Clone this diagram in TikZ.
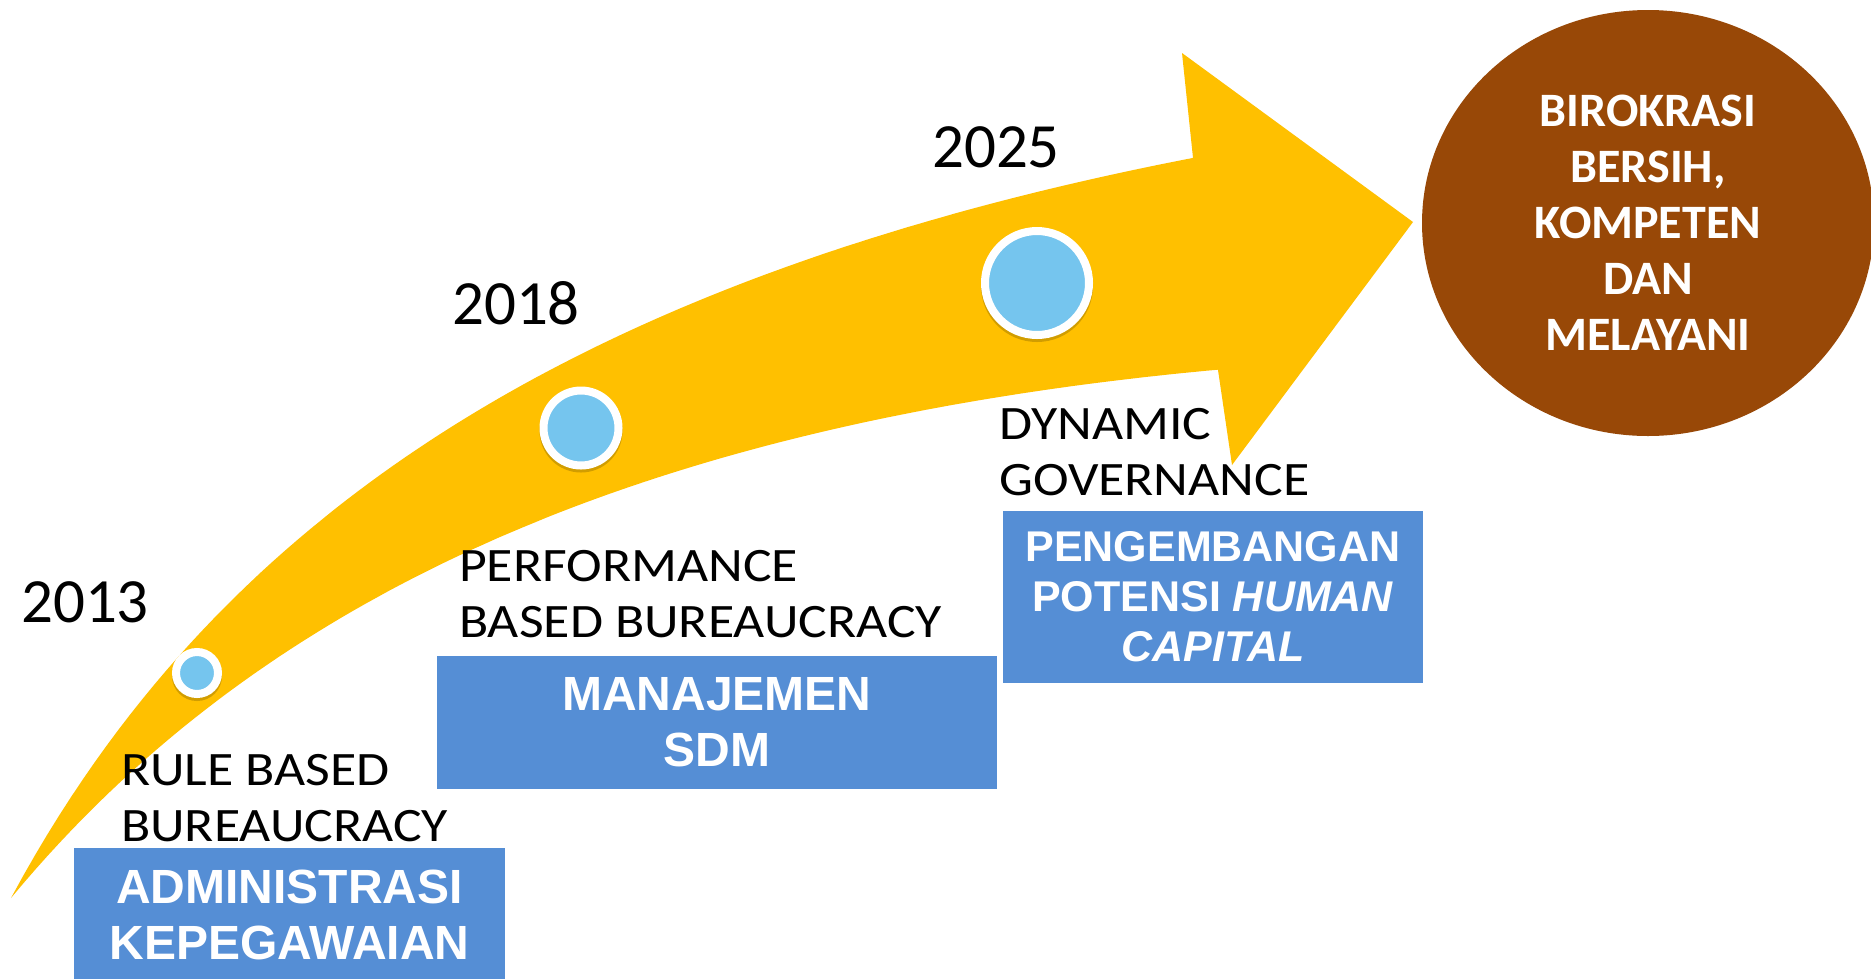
\documentclass[tikz,border=0pt]{standalone}
\usepackage{fontspec}
\setmainfont{Carlito}
\newfontfamily\lblfont[FakeStretch=1.12]{Carlito}
\newfontfamily\boxfont{Liberation Sans}
\usetikzlibrary{shapes.geometric}
\definecolor{arrowyellow}{HTML}{FFC000}
\definecolor{dotblue}{HTML}{75C5EE}
\definecolor{boxblue}{HTML}{558ED5}
\definecolor{goalbrown}{HTML}{984807}
\begin{document}
\begin{tikzpicture}[x=1pt,y=-1pt,
  yeartext/.style={inner sep=0pt, font=\fontsize{63}{70}\selectfont},
  lbltext/.style={inner sep=0pt, anchor=north west, align=left, font=\lblfont\fontsize{48}{56}\selectfont},
  stagebox/.style={fill=boxblue, text=white, align=center, inner sep=0pt, font=\boxfont\bfseries\fontsize{48}{56}\selectfont},
  dotnode/.style={circle, fill=dotblue, draw=white, inner sep=0pt, line width=8pt,
    preaction={fill=black, draw=black, opacity=0.18, transform canvas={yshift=-3pt}}},
  goalnode/.style={ellipse, fill=goalbrown, text=white, inner sep=0pt, align=center, font=\bfseries\fontsize{48}{56}\selectfont}]
\path[use as bounding box] (0,0) rectangle (1871,978);
\clip (0,0) rectangle (1871,978);
\fill[white] (0,0) rectangle (1871,978);
% big curved arrow (edges as smooth analytic curves)
\fill[arrowyellow]
  plot[domain=11:1193, samples=100] (\x, {898 + 0.249*(\x-11) - 662.6*ln((\x+303)/314)})
  -- (1182,53) -- (1413,222) -- (1232,465) -- (1218,370)
  -- plot[domain=1218:11, samples=100] (\x, {898 + 0.396*(\x-11) - 844.7*ln((\x+515.7)/526.7)})
  -- cycle;
% milestones
\node[dotnode, minimum size=42pt] (d1) at (197,673) {};
\node[dotnode, minimum size=75pt] (d2) at (581,428) {};
\node[dotnode, minimum size=104pt] (d3) at (1037,283) {};
% years
\node[yeartext] (y1) at (85,602) {2013};
\node[yeartext] (y2) at (516,303) {2018};
\node[yeartext] (y3) at (996,147) {2025};
% paradigm labels
\node[lbltext] (l1) at (121,754) {RULE BASED\\BUREAUCRACY};
\node[lbltext] (l2) at (459,550) {PERFORMANCE\\BASED BUREAUCRACY};
\node[lbltext] (l3) at (999,408) {DYNAMIC\\GOVERNANCE};
% stage boxes
\node[stagebox, minimum width=431pt, minimum height=134pt] (b1) at (289.5,915) {ADMINISTRASI\\KEPEGAWAIAN};
\node[stagebox, minimum width=560pt, minimum height=133pt] (b2) at (717,722.5) {MANAJEMEN\\SDM};
\node[stagebox, minimum width=420pt, minimum height=172pt, font=\boxfont\bfseries\fontsize{43}{50}\selectfont] (b3) at (1213,597) {PENGEMBANGAN\\POTENSI \textit{HUMAN}\\\textit{CAPITAL}};
% goal
\node[goalnode, minimum width=452pt, minimum height=426pt] (goal) at (1648,223) {BIROKRASI\\BERSIH,\\KOMPETEN\\DAN\\MELAYANI};
\end{tikzpicture}
\end{document}
